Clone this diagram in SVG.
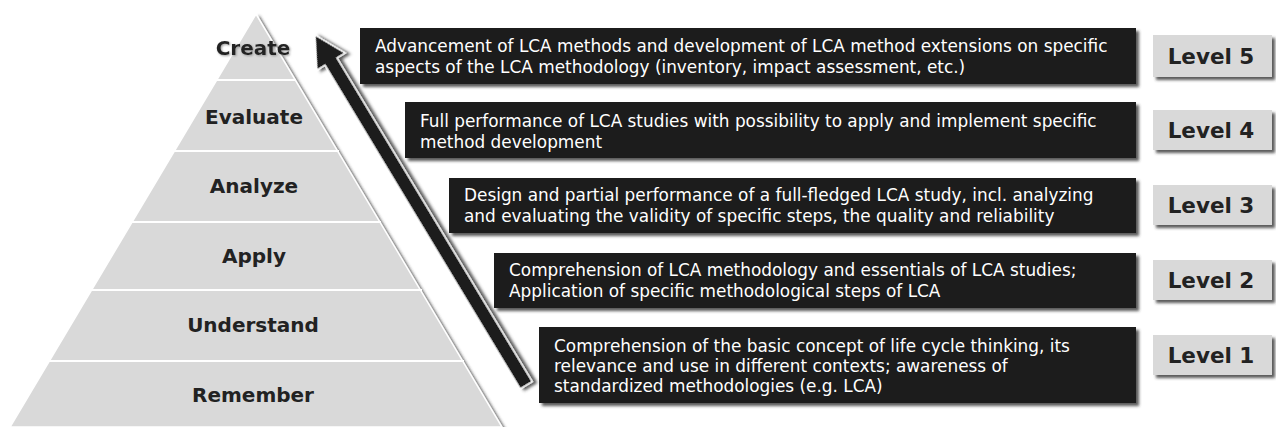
<svg xmlns="http://www.w3.org/2000/svg" width="1276" height="427" viewBox="0 0 1276 427">
<defs>
<filter id="sh" x="-10%" y="-20%" width="130%" height="160%">
<feDropShadow dx="3" dy="3" stdDeviation="1.5" flood-color="#333" flood-opacity="0.8"/>
</filter>
<filter id="tsh" x="-10%" y="-30%" width="130%" height="160%">
<feDropShadow dx="1" dy="1" stdDeviation="1" flood-color="#888" flood-opacity="0.8"/>
</filter>
<style>
.band{fill:#d9d9d9;}
.sep{stroke:#ffffff;stroke-width:2;}
.plabel{font-family:"DejaVu Sans",Verdana,sans-serif;font-weight:bold;font-size:20px;fill:#222;text-anchor:middle;}
.box{fill:#1e1e1e;}
.btext{font-family:"DejaVu Sans",Verdana,sans-serif;font-size:16.9px;fill:#ffffff;}
.lvl{fill:#d9d9d9;}
.ltext{font-family:"DejaVu Sans",Verdana,sans-serif;font-weight:bold;font-size:21.5px;fill:#222;text-anchor:middle;}
</style>
</defs>
<rect width="1276" height="427" fill="#ffffff"/>

<g id="pyramid">
<polygon class="band" points="256,14 502,427 10,427" filter="url(#sh)" stroke="#ffffff" stroke-width="1.5"/>
<line class="sep" x1="216" y1="80" x2="296" y2="80"/>
<line class="sep" x1="173" y1="151" x2="339" y2="151"/>
<line class="sep" x1="131" y1="222" x2="381" y2="222"/>
<line class="sep" x1="90" y1="290" x2="422" y2="290"/>
<line class="sep" x1="48" y1="361" x2="464" y2="361"/>
</g>
<g id="create"><text class="plabel" x="253" y="55" filter="url(#tsh)">Create</text></g>
<g id="evaluate"><text class="plabel" x="254" y="124">Evaluate</text></g>
<g id="analyze"><text class="plabel" x="254" y="193">Analyze</text></g>
<g id="apply"><text class="plabel" x="254" y="263">Apply</text></g>
<g id="understand"><text class="plabel" x="253" y="332">Understand</text></g>
<g id="remember"><text class="plabel" x="253" y="402">Remember</text></g>

<g id="connectors">
<polygon points="0,0 16.5,31 7,31 7,409 -7,409 -7,31 -16.5,31" transform="translate(315,35) rotate(-31.1)" fill="#1a1a1a" stroke="#ffffff" stroke-width="1.5" filter="url(#sh)"/>
</g>

<g id="desc5">
<rect class="box" x="360" y="28" width="776" height="56" filter="url(#sh)"/>
<text class="btext" x="375" y="52">Advancement of LCA methods and development of LCA method extensions on specific</text>
<text class="btext" x="375" y="73">aspects of the LCA methodology (inventory, impact assessment, etc.)</text>
</g>
<g id="desc4">
<rect class="box" x="405" y="102" width="731" height="56" filter="url(#sh)"/>
<text class="btext" x="420" y="127">Full performance of LCA studies with possibility to apply and implement specific</text>
<text class="btext" x="420" y="148">method development</text>
</g>
<g id="desc3">
<rect class="box" x="449" y="178" width="687" height="55" filter="url(#sh)"/>
<text class="btext" x="464" y="201">Design and partial performance of a full-fledged LCA study, incl. analyzing</text>
<text class="btext" x="464" y="222">and evaluating the validity of specific steps, the quality and reliability</text>
</g>
<g id="desc2">
<rect class="box" x="494" y="253" width="642" height="55" filter="url(#sh)"/>
<text class="btext" x="509" y="276">Comprehension of LCA methodology and essentials of LCA studies;</text>
<text class="btext" x="509" y="297">Application of specific methodological steps of LCA</text>
</g>
<g id="desc1">
<rect class="box" x="539" y="327" width="597" height="76" filter="url(#sh)"/>
<text class="btext" x="554" y="352">Comprehension of the basic concept of life cycle thinking, its</text>
<text class="btext" x="554" y="372">relevance and use in different contexts; awareness of</text>
<text class="btext" x="554" y="392">standardized methodologies (e.g. LCA)</text>
</g>

<g id="level5"><rect class="lvl" x="1153" y="35" width="119" height="42" filter="url(#sh)"/><text class="ltext" x="1211" y="64">Level 5</text></g>
<g id="level4"><rect class="lvl" x="1153" y="110" width="119" height="40" filter="url(#sh)"/><text class="ltext" x="1211" y="138">Level 4</text></g>
<g id="level3"><rect class="lvl" x="1153" y="185" width="119" height="40" filter="url(#sh)"/><text class="ltext" x="1211" y="213">Level 3</text></g>
<g id="level2"><rect class="lvl" x="1153" y="260" width="119" height="40" filter="url(#sh)"/><text class="ltext" x="1211" y="288">Level 2</text></g>
<g id="level1"><rect class="lvl" x="1153" y="335" width="119" height="40" filter="url(#sh)"/><text class="ltext" x="1211" y="363">Level 1</text></g>
</svg>
